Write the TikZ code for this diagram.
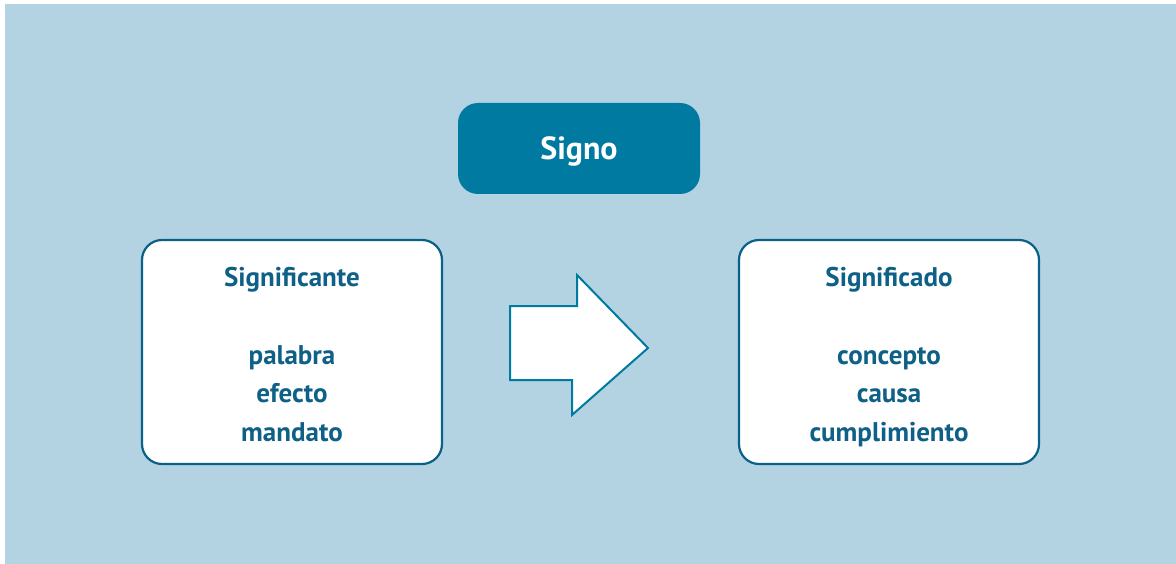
\documentclass[tikz,border=0pt]{standalone}
\usepackage{fontspec}
\setmainfont{PT Sans}
\definecolor{bgblue}{RGB}{179,211,227}
\definecolor{signo}{RGB}{0,122,160}
\definecolor{txtblue}{RGB}{14,96,134}
\definecolor{boxline}{RGB}{10,96,136}
\begin{document}
\begin{tikzpicture}[x=1pt,y=-1pt,
  conceptbox/.style={draw=boxline,line width=2.2pt,fill=white,rounded corners=20pt,minimum width=300pt,minimum height=224pt,inner sep=0pt},
  txt/.style={font=\bfseries\fontsize{27}{32}\selectfont,text=txtblue,anchor=base}]
\useasboundingbox (0,0) rectangle (1176,564);
\fill[bgblue] (5,4) rectangle (1176,564);
\node[fill=signo,rounded corners=20pt,minimum width=242pt,minimum height=91pt,inner sep=0pt,text=white,font=\bfseries\fontsize{32}{38}\selectfont,text depth=0pt] (signo) at (579,148.5) {};
\node[text=white,font=\bfseries\fontsize{32}{38}\selectfont,anchor=base] (signotxt) at (579,160) {Signo};
\node[conceptbox] (left) at (292,352) {};
\node[conceptbox] (right) at (889,352) {};
\node[txt] (l1) at (292,287) {Significante};
\node[txt] (l2) at (292,364) {palabra};
\node[txt] (l3) at (292,402.5) {efecto};
\node[txt] (l4) at (292,441) {mandato};
\node[txt] (r1) at (889,287) {Significado};
\node[txt] (r2) at (889,364) {concepto};
\node[txt] (r3) at (889,402.5) {causa};
\node[txt] (r4) at (889,441) {cumplimiento};
\draw[draw=signo,line width=2pt,fill=white,line join=miter]
  (510,306) -- (577,306) -- (577,275) -- (648,348) -- (572,415) -- (572,380) -- (510,380) -- cycle;
\end{tikzpicture}
\end{document}
